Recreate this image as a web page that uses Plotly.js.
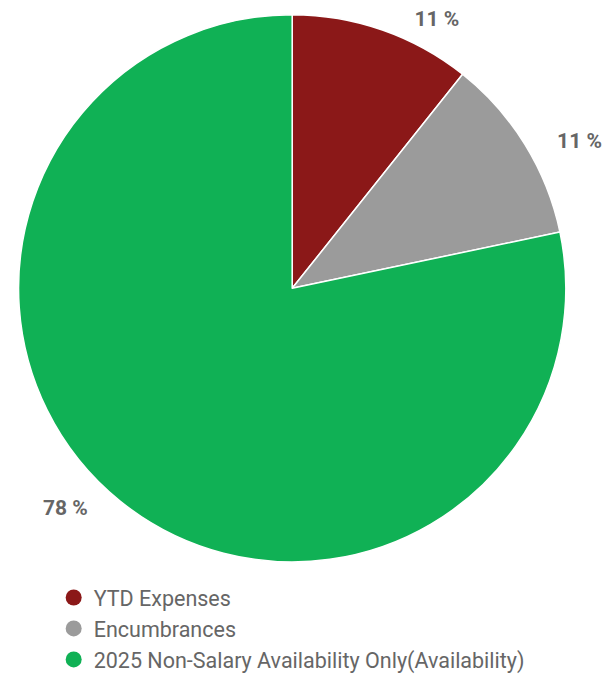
<!DOCTYPE html>
<html>
<head>
<meta charset="utf-8">
<script src="https://cdn.plot.ly/plotly-3.0.1.min.js"></script>
<style>html,body{margin:0;padding:0;background:#fff;}#chart{width:610px;height:680px;}</style>
</head>
<body>
<div id="chart"></div>
<script>
const categories = ["YTD Expenses", "Encumbrances", "2025 Non-Salary Availability Only(Availability)"];
const shares = [10.7, 11.0, 78.3];
const colors = ["#8b1818", "#9b9b9b", "#10b155"];

const pad = "\u00a0\u00a0\u00a0\u00a0\u00a0";
const pie = {
  type: "pie",
  labels: categories,
  values: shares,
  sort: false,
  direction: "clockwise",
  rotation: 0,
  marker: {colors: colors, line: {color: "#ffffff", width: 1.5}},
  textposition: "outside",
  texttemplate: [pad + "<b>%{value:.0f} %</b>", pad + "<b>%{value:.0f} %</b>", "<b>%{value:.0f} %</b>" + pad],
  outsidetextfont: {family: "Roboto, sans-serif", size: 21, color: "#666666"},
  hoverinfo: "label+percent",
  showlegend: false,
  domain: {x: [0.023, 0.935], y: [0.160, 0.978]},
  automargin: false
};

const legendTraces = categories.map((c, i) => ({
  type: "scatter",
  mode: "markers",
  x: [null], y: [null],
  name: c,
  marker: {color: colors[i], size: 16, symbol: "circle"},
  showlegend: true,
  hoverinfo: "skip"
}));

const layout = {
  width: 610, height: 680,
  margin: {l: 0, r: 0, t: 0, b: 0},
  paper_bgcolor: "#ffffff",
  plot_bgcolor: "#ffffff",
  font: {family: "Roboto, sans-serif", color: "#666666"},
  xaxis: {visible: false},
  yaxis: {visible: false},
  showlegend: true,
  legend: {
    x: 0.088, y: 0.137, xanchor: "left", yanchor: "top",
    font: {family: "Roboto, sans-serif", size: 21.5, color: "#666666"},
    tracegroupgap: 0, itemsizing: "trace"
  }
};

Plotly.newPlot("chart", [pie, ...legendTraces], layout, {displayModeBar: false, staticPlot: true});
</script>
</body>
</html>
